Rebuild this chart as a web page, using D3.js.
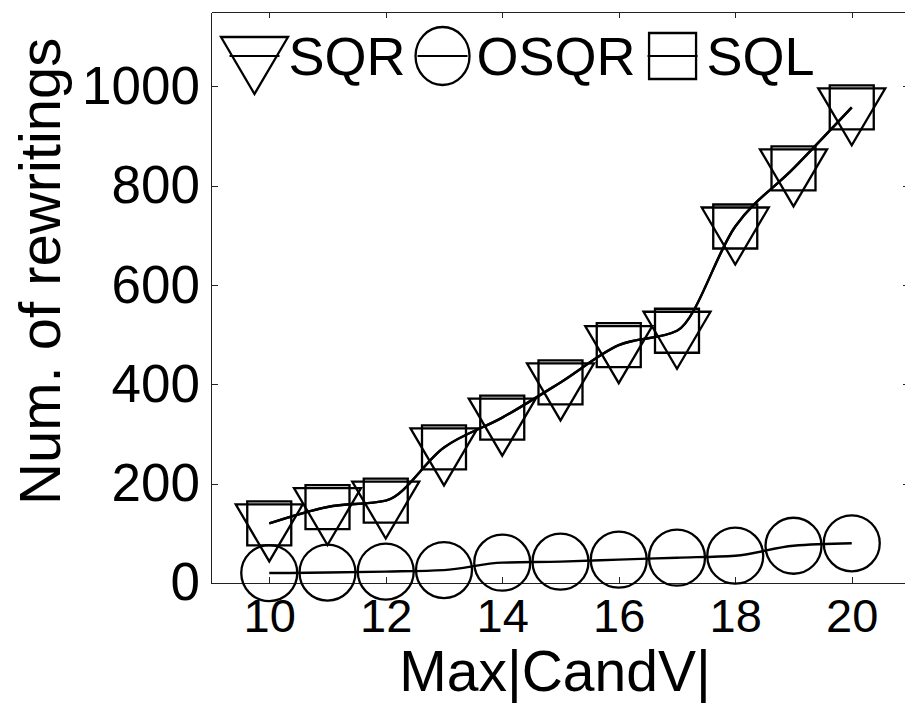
<!DOCTYPE html>
<html>
<head>
<meta charset="utf-8">
<script src="https://cdn.jsdelivr.net/npm/d3@7"></script>
<style>
  body { margin: 0; background: #fff; }
  text { font-family: Arial, "Liberation Sans", sans-serif; fill: #000; }
  .axis path, .axis line { stroke: #222; stroke-width: 1; shape-rendering: crispEdges; }
  .series { fill: none; stroke: #000; stroke-width: 2.4; }
  .marker { fill: none; stroke: #000; stroke-width: 2.3; }
</style>
</head>
<body>
<svg id="view"></svg>
<script>
// data
const candV = [10, 11, 12, 13, 14, 15, 16, 17, 18, 19, 20];
const sqr   = [120, 153, 166, 273, 333, 404, 479, 508, 718, 835, 958];
const osqr  = [20, 21, 23, 26, 41, 43, 47, 51, 55, 75, 80];
const sql   = [120, 153, 166, 273, 333, 404, 479, 508, 718, 835, 958];
const xTicks = [10, 12, 14, 16, 18, 20];
const yTicks = [0, 200, 400, 600, 800, 1000];
const seriesNames = ['SQR', 'OSQR', 'SQL'];

const width = 905, height = 705;
const margin = {top: 12, right: -5, bottom: 122, left: 211};

const svg = d3.select('#view')
    .attr('width', width)
    .attr('height', height);

const x = d3.scaleLinear().domain([9, 21]).range([margin.left, width - margin.right]);
const y = d3.scaleLinear().domain([0, 1150]).range([height - margin.bottom, margin.top]);

// marker shapes, centred like matlab does (triangle on its centroid)
const markerPath = {
    tri: 'M-33.5,-19L33.5,-19L0,38Z',
    circ: d3.arc()({innerRadius: 0, outerRadius: 28, startAngle: 0, endAngle: 2 * Math.PI}),
    sq: 'M-22,-22L22,-22L22,22L-22,22Z'
};
const legendPath = {
    tri: markerPath.tri,
    circ: 'M-27,0A27,29 0 1,0 27,0A27,29 0 1,0 -27,0Z',
    sq: 'M-23.5,-23L23.5,-23L23.5,23L-23.5,23Z'
};

// axes box
const xAxis = d3.axisBottom(x).tickValues(xTicks).tickSizeInner(-6).tickSizeOuter(0).tickPadding(16);
const xTop  = d3.axisTop(x).tickValues(xTicks).tickSizeInner(-6).tickSizeOuter(0).tickFormat('');
const yAxis = d3.axisLeft(y).tickValues(yTicks).tickSizeInner(-7).tickSizeOuter(0).tickPadding(11)
    .tickFormat(d3.format('d'));
const yRight = d3.axisRight(y).tickValues(yTicks).tickSizeInner(-7).tickSizeOuter(0).tickFormat('');

svg.append('g').attr('class', 'axis')
    .attr('transform', `translate(0,${y(0)})`)
    .call(xAxis)
    .selectAll('text').style('font-size', '47px');
svg.append('g').attr('class', 'axis')
    .attr('transform', `translate(0,${margin.top})`)
    .call(xTop);
svg.append('g').attr('class', 'axis')
    .attr('transform', `translate(${margin.left},0)`)
    .call(yAxis)
    .selectAll('text').style('font-size', '53px');
svg.append('g').attr('class', 'axis')
    .attr('transform', `translate(${x(21)},0)`)
    .call(yRight);
svg.selectAll('.axis text').attr('fill', '#000');

// lines + markers
const line = d3.line()
    .x(d => x(d.x))
    .y(d => y(d.y))
    .curve(d3.curveMonotoneX);

const series = [
    {name: 'SQR', values: sqr, marker: 'tri'},
    {name: 'OSQR', values: osqr, marker: 'circ'},
    {name: 'SQL', values: sql, marker: 'sq'}
];

series.forEach(s => {
    const pts = candV.map((c, i) => ({x: c, y: s.values[i]}));
    svg.append('path')
        .datum(pts)
        .attr('class', 'series')
        .attr('d', line);
    svg.selectAll('.m-' + s.marker)
        .data(pts)
        .enter()
        .append('path')
        .attr('class', 'marker m-' + s.marker)
        .attr('transform', d => `translate(${x(d.x)},${y(d.y)})`)
        .attr('d', markerPath[s.marker]);
});

// legend, laid out left to right
const legend = svg.append('g');
let cx = 254.5;
series.forEach((s, i) => {
    const g = legend.append('g').attr('transform', `translate(${cx},56)`);
    g.append('line').attr('x1', -25).attr('x2', 25)
        .attr('stroke', '#000').attr('stroke-width', 2);
    g.append('path').attr('class', 'marker').attr('d', legendPath[s.marker]);
    const t = legend.append('text')
        .attr('x', cx + 34)
        .attr('y', 75)
        .style('font-size', '54px')
        .text(seriesNames[i]);
    cx = cx + 34 + t.node().getComputedTextLength() + 37;
});

// axis titles
svg.append('text')
    .attr('x', 555)
    .attr('y', 691)
    .attr('text-anchor', 'middle')
    .style('font-size', '57px')
    .text('Max|CandV|');

svg.append('text')
    .attr('transform', 'translate(60,505) rotate(-90)')
    .attr('text-anchor', 'start')
    .style('font-size', '58px')
    .text('Num. of rewritings');
</script>
</body>
</html>
